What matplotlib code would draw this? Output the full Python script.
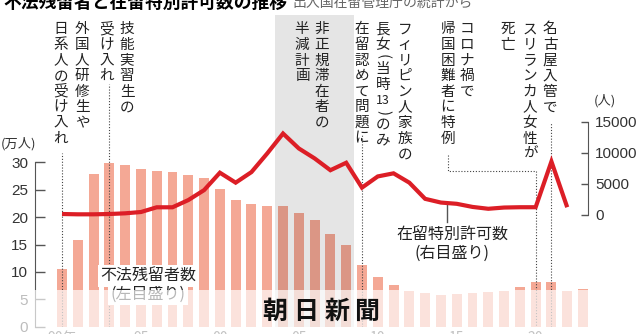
import matplotlib
matplotlib.use('Agg')
import matplotlib.pyplot as plt
from matplotlib.patches import Rectangle

# ---- data ----
years = list(range(1990, 2024))
# 不法残留者数 (万人), 1990-2023
overstayers = [10.5, 15.9, 27.9, 29.9, 29.5, 28.7, 28.5, 28.3, 27.7, 27.1,
               25.2, 23.2, 22.4, 22.0, 22.0, 20.7, 19.4, 17.0, 14.9, 11.2,
               9.1, 7.7, 6.6, 6.1, 5.8, 6.0, 6.2, 6.4, 6.5, 7.3,
               8.2, 8.2, 6.5, 6.9]
# 在留特別許可数 (人), 1990-2022
permit_years = list(range(1990, 2023))
permits = [160, 110, 110, 160, 270, 480, 1240, 1240, 2400, 4000,
           6800, 5200, 6900, 9900, 13100, 10700, 9100, 7200, 8400, 4400,
           6200, 6700, 5200, 2600, 2000, 1800, 1300, 1000, 1200, 1250,
           1250, 8600, 1250]
xtick_years = [1990, 1995, 2000, 2005, 2010, 2015, 2020]
xtick_labels = ['90年', '95', '00', '05', '10', '15', '20']
shade_years = (2004, 2008)

W, H = 640, 334
JP = ['Noto Sans CJK JP', 'DejaVu Sans']
NUM = ['Liberation Sans Narrow', 'Liberation Sans', 'DejaVu Sans']
plt.rcParams['font.family'] = JP

fig = plt.figure(figsize=(W / 100, H / 100), dpi=100)


def fx(px):
    return px / W


def fy(py):
    return 1 - py / H


# main axes: left spine at x=35px, right spine at 588px, zero at y=326.7px, top at 15px
ax = fig.add_axes([fx(35), fy(326.7), (588 - 35) / W, (326.7 - 15) / H])
ax2 = ax.twinx()

px_per_year = (583 - 62) / 33
ax.set_xlim(1990 - (62 - 35) / px_per_year, 1990 + (588 - 62) / px_per_year)
left_px = 5.48        # px per 万人
ax.set_ylim(0, (326.7 - 15) / left_px)
right_per_px = 15000 / 93.3
ax2.set_ylim(-(326.7 - 215) * right_per_px, (215 - 15) * right_per_px)

ax.bar(years, overstayers, width=0.63, color='#f4a895', zorder=2)
ax.axvspan(shade_years[0] - 0.5, shade_years[1] + 0.5, color='black', alpha=0.1, lw=0, zorder=3)

# dotted leader lines
dot = dict(color='#444444', lw=0.8, linestyle=(0, (1, 1.6)), zorder=4)


def vdot(year, top_px):
    ax.axvline(year, ymin=0, ymax=(326.7 - top_px) / (326.7 - 15), **dot)


vdot(1990, 153)
vdot(1993, 84)
vdot(2009, 135)
vdot(2021, 123)
yr_corona_text = 1990 + (448 - 62) / px_per_year
yc = (215 - 171) * right_per_px
ytop = (215 - 155) * right_per_px
ax2.plot([yr_corona_text, yr_corona_text, 2020, 2020],
         [ytop, yc, yc, ax2.get_ylim()[0]], **dot)

# permit line
ax2.plot(permit_years, permits, color='#dc1e26', lw=3, zorder=5,
         solid_joinstyle='miter', solid_capstyle='butt')
# leader for label
yr_lead = 1990 + (446.7 - 62) / px_per_year
ax2.plot([yr_lead, yr_lead], [(215 - 205) * right_per_px, (215 - 222) * right_per_px],
         color='#555555', lw=1)

# axes styling
for a in (ax, ax2):
    a.spines['top'].set_visible(False)
    a.spines['bottom'].set_visible(False)
    a.patch.set_visible(False)
ax.spines['right'].set_visible(False)
ax2.spines['left'].set_visible(False)
ax.spines['left'].set_bounds(0, 30)
ax.spines['left'].set_color('#555555')
ax2.spines['right'].set_bounds(0, 15000)
ax2.spines['right'].set_color('#555555')

ax.set_yticks([0, 5, 10, 15, 20, 25, 30])
ax.tick_params(axis='y', direction='in', length=7, width=1, color='#555555',
               pad=5, labelsize=11, labelcolor='#333333')
ax2.set_yticks([0, 5000, 10000, 15000])
ax2.tick_params(axis='y', direction='in', length=5, width=1, color='#555555',
                pad=5, labelsize=11, labelcolor='#333333')
for lab in ax.get_yticklabels() + ax2.get_yticklabels():
    lab.set_family(NUM)

ax.set_xticks(xtick_years)
ax.set_xticklabels(xtick_labels)
ax.tick_params(axis='x', length=0, pad=3, labelsize=10, labelcolor='#444444')
ax2.tick_params(axis='x', length=0)

# titles
fig.text(fx(3), fy(8), '不法残留者と在留特別許可数の推移', fontsize=12.8,
         fontweight='bold', color='black', va='baseline', ha='left')
fig.text(fx(292), fy(7), '出入国在留管理庁の統計から', fontsize=10,
         color='#666666', va='baseline', ha='left')

# unit labels
fig.text(fx(19), fy(144), '(万人)', fontsize=9.5, color='#333333', ha='center', va='center')
fig.text(fx(605), fy(101), '(人)', fontsize=9.5, color='#333333', ha='center', va='center')


# vertical (tategaki) annotation columns
def tate(x, tokens, y0=21.5, pitch=15.6, size=10.5):
    y = y0
    for t in tokens:
        if t in '()':
            step = pitch * 0.55
            fig.text(fx(x), fy(y + step / 2), t, fontsize=size, color='#222222',
                     ha='center', va='center', rotation=-90,
                     rotation_mode='anchor')
        else:
            step = pitch
            fs = size * 0.85 if t.isdigit() else size
            fig.text(fx(x), fy(y + step / 2), t, fontsize=fs, color='#222222',
                     ha='center', va='center')
        y += step


tate(82, list('外国人研修生や'))
tate(61, list('日系人の受け入れ'))
tate(127, list('技能実習生の'))
tate(107, list('受け入れ'))
tate(322, list('非正規滞在者の'))
tate(302, list('半減計画'))
tate(405, list('フィリピン人家族の'))
tate(383, ['長', '女', '(', '当', '時', '13', ')', 'の', 'み'])
tate(362, list('在留認めて問題に'))
tate(467, list('コロナ禍で'))
tate(448, list('帰国困難者に特例'))
tate(550, list('名古屋入管で'))
tate(530, list('スリランカ人女性が'))
tate(508, list('死亡'))

# series labels
fig.text(fx(148), fy(276), '不法残留者数', fontsize=11.5, color='#222222',
         ha='center', va='center',
         bbox=dict(facecolor='white', edgecolor='none', pad=1.5))
fig.text(fx(148), fy(294), '(左目盛り)', fontsize=11.5, color='#222222',
         ha='center', va='center',
         bbox=dict(facecolor='white', edgecolor='none', pad=1.5))
fig.text(fx(452), fy(235), '在留特別許可数', fontsize=11.5, color='#222222',
         ha='center', va='center')
fig.text(fx(452), fy(253), '(右目盛り)', fontsize=11.5, color='#222222',
         ha='center', va='center')

# translucent band for the logo
fig.add_artist(Rectangle((0, 0), 1, fy(289.5), transform=fig.transFigure,
                         facecolor='white', edgecolor='none', alpha=0.68, zorder=10))
for ch, cx in zip('朝日新聞', [275, 306, 337, 367]):
    fig.text(fx(cx), fy(312), ch, fontsize=18, fontweight='bold', color='#111111',
             ha='center', va='center', zorder=11)

fig.savefig('out.png', dpi=100)
